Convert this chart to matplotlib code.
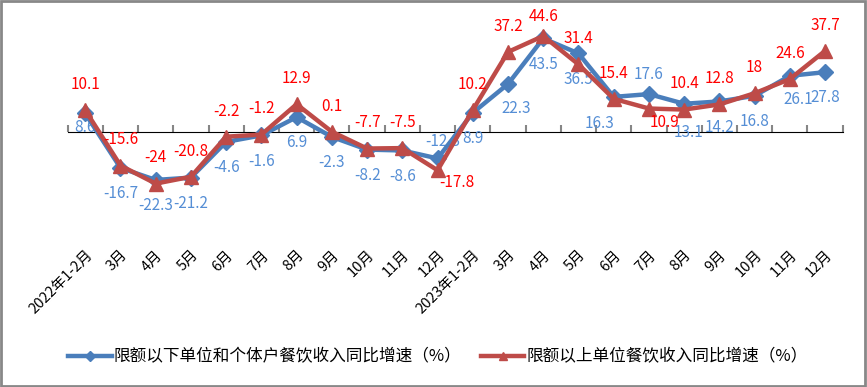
import matplotlib
matplotlib.use('Agg')
import matplotlib.pyplot as plt
from matplotlib.patches import Rectangle

plt.rcParams['font.family'] = ['Noto Sans CJK SC', 'DejaVu Sans']

# 数据
months = ['2022年1-2月', '3月', '4月', '5月', '6月', '7月', '8月', '9月', '10月', '11月', '12月',
          '2023年1-2月', '3月', '4月', '5月', '6月', '7月', '8月', '9月', '10月', '11月', '12月']
below_quota = [8.6, -16.7, -22.3, -21.2, -4.6, -1.6, 6.9, -2.3, -8.2, -8.6, -12.3,
               8.9, 22.3, 43.5, 36.5, 16.3, 17.6, 13.1, 14.2, 16.8, 26.1, 27.8]
above_quota = [10.1, -15.6, -24, -20.8, -2.2, -1.2, 12.9, 0.1, -7.7, -7.5, -17.8,
               10.2, 37.2, 44.6, 31.4, 15.4, 10.9, 10.4, 12.8, 18, 24.6, 37.7]
name_below = '限额以下单位和个体户餐饮收入同比增速（%）'
name_above = '限额以上单位餐饮收入同比增速（%）'

# 标签偏移（磅），默认：蓝色在下，红色在上
off_below = {0: (0, -10), 10: (4, 12), 12: (6, -18), 15: (-10, -19), 16: (0, 14),
             17: (3, -21), 20: (6, -17)}
off_above = {10: (14, -9), 13: (0, 14), 16: (11, -10)}

blue = '#4A7EBB'
red = '#BE4B48'

fig = plt.figure(figsize=(8.67, 3.87), dpi=100)
ax = fig.add_axes([0.078, 0.381, 0.894, 0.556])
x = list(range(len(months)))

ax.plot(x, below_quota, color=blue, lw=3.2, marker='D', markersize=8, label=name_below, zorder=3)
ax.plot(x, above_quota, color=red, lw=3.2, marker='^', markersize=10, label=name_above, zorder=4)

for i, v in enumerate(below_quota):
    dx, dy = off_below.get(i, (0, -18.5))
    ax.annotate(f'{v:g}', (i, v), xytext=(dx, dy), textcoords='offset points',
                ha='center', va='center', fontsize=11, color='#558ED5', zorder=2)
for i, v in enumerate(above_quota):
    dx, dy = off_above.get(i, (0, 18.5))
    ax.annotate(f'{v:g}', (i, v), xytext=(dx, dy), textcoords='offset points',
                ha='center', va='center', fontsize=11, color='#FF0000', zorder=5)

ax.set_xlim(-0.5, len(months) - 0.5)
ax.set_ylim(-50, 50)
ax.set_yticks([])
for s in ax.spines.values():
    s.set_visible(False)
ax.set_xticks(x)
ax.set_xticklabels(months, rotation=45, ha='right', rotation_mode='anchor', fontsize=10.5)
ax.tick_params(axis='x', length=0, pad=6)

# 零轴与刻度
zero = ax.secondary_xaxis(0.5)
zero.set_xticks([i - 0.5 for i in range(len(months) + 1)])
zero.set_xticklabels([])
zero.tick_params(axis='x', length=5, width=1.5, color='#868686')
zero.spines['bottom'].set_color('#868686')
zero.spines['bottom'].set_linewidth(1.5)

fig.legend(loc='center', bbox_to_anchor=(0.505, 0.077), ncol=2, frameon=False, fontsize=12,
           handlelength=2.6, handletextpad=0.1, columnspacing=1.2, markerscale=0.6)

fig.patches.append(Rectangle((0.001, 0.002), 0.997, 0.996, transform=fig.transFigure,
                             fill=False, edgecolor='#888888', lw=2))

fig.savefig('out.png', dpi=100)
